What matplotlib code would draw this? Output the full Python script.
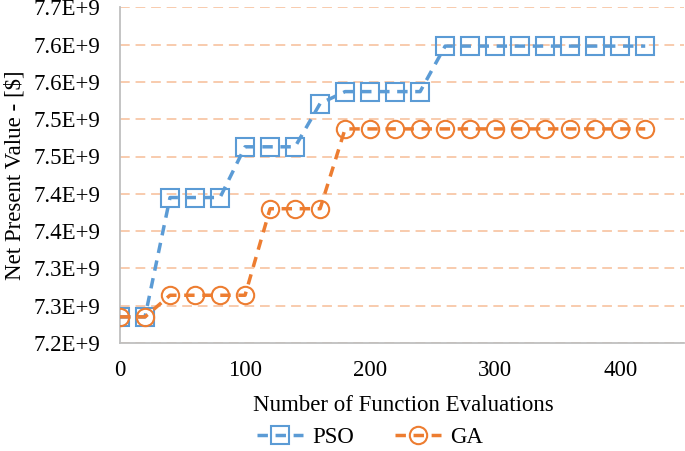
import matplotlib.pyplot as plt

plt.rcParams['font.family'] = ['Liberation Serif', 'DejaVu Serif']

# Evaluations on the x axis
evals = [0, 20, 40, 60, 80, 100, 120, 140, 160, 180, 200,
         220, 240, 260, 280, 300, 320, 340, 360, 380, 400, 420]

# Net present value, in units of 1e9 $
pso_npv = [7.235, 7.235, 7.395, 7.395, 7.395, 7.463, 7.463, 7.463, 7.521, 7.537, 7.537,
           7.537, 7.537, 7.598, 7.598, 7.598, 7.598, 7.598, 7.598, 7.598, 7.598, 7.598]
ga_npv = [7.235, 7.235, 7.264, 7.264, 7.264, 7.264, 7.380, 7.380, 7.380, 7.487, 7.487,
          7.487, 7.487, 7.487, 7.487, 7.487, 7.487, 7.487, 7.487, 7.487, 7.487, 7.487]

y_ticks = [7.20, 7.25, 7.30, 7.35, 7.40, 7.45, 7.50, 7.55, 7.60, 7.65]
y_tick_labels = ['7.2E+9', '7.3E+9', '7.3E+9', '7.4E+9', '7.4E+9',
                 '7.5E+9', '7.5E+9', '7.6E+9', '7.6E+9', '7.7E+9']
x_ticks = [0, 100, 200, 300, 400]

blue = '#5B9BD5'
orange = '#ED7D31'
fs = 16.5

fig = plt.figure(figsize=(6.85, 4.51), dpi=100)
ax = fig.add_axes([120 / 685, 1 - 343 / 451, 564 / 685, 335.7 / 451])

ax.plot(evals, pso_npv, color=blue, lw=2.5, linestyle=(0, (3, 2.2)),
        marker='s', ms=12.5, mfc='none', mec=blue, mew=1.5, label='PSO', zorder=3)
ax.plot(evals, ga_npv, color=orange, lw=2.5, linestyle=(0, (3, 2.2)),
        marker='o', ms=12.5, mfc='none', mec=orange, mew=1.5, label='GA', zorder=3)

ax.set_xlim(0, 451)
ax.set_ylim(7.20, 7.65)
ax.set_xticks(x_ticks)
ax.set_yticks(y_ticks)
ax.set_yticklabels(y_tick_labels)
ax.tick_params(axis='both', length=0, labelsize=fs)
ax.tick_params(axis='y', pad=14)
ax.tick_params(axis='x', pad=12)

# dashed light orange horizontal gridlines
ax.yaxis.grid(True, color='#F8CBAD', lw=1.4, linestyle=(0, (5, 3)))
ax.set_axisbelow(True)

for side in ['top', 'right']:
    ax.spines[side].set_visible(False)
for side in ['left', 'bottom']:
    ax.spines[side].set_color('#BFBFBF')
    ax.spines[side].set_linewidth(1.3)

ax.set_xlabel('Number of Function Evaluations', fontsize=fs)
ax.set_ylabel('Net Present Value - [$]', fontsize=fs)
ax.xaxis.set_label_coords((403 - 120) / 564, -(395 - 343) / 335.7)
ax.yaxis.set_label_coords(-(120 - 26) / 564, 0.5)

fig.legend(loc='center', bbox_to_anchor=(370 / 685, 1 - 437 / 451), ncol=2,
           frameon=False, fontsize=fs, handlelength=2, columnspacing=1.8,
           handletextpad=0.4)

fig.savefig('out.png', dpi=100)
